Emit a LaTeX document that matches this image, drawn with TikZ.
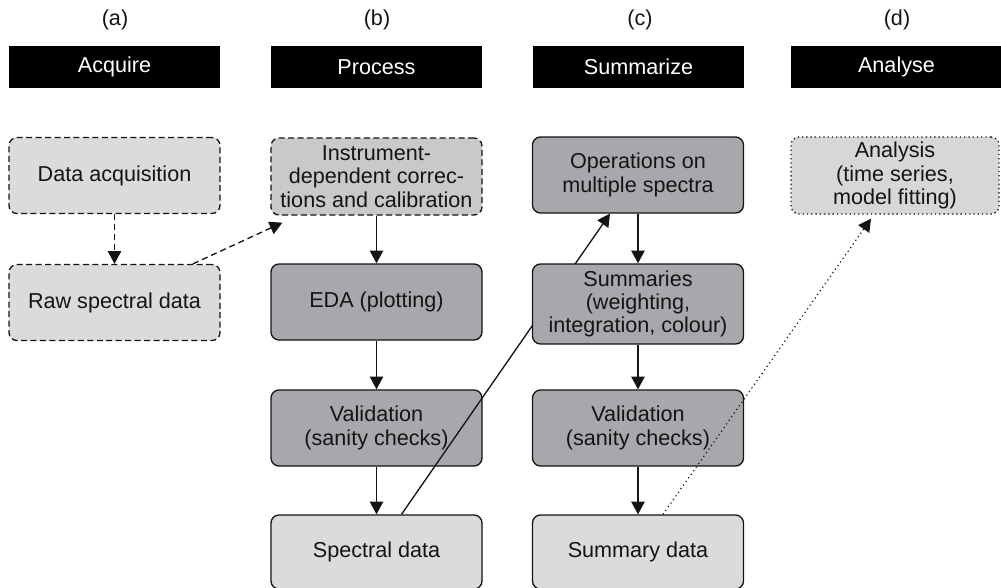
\documentclass[tikz,border=0pt]{standalone}
\usepackage{fontspec}
\setmainfont{Liberation Sans}
\usetikzlibrary{arrows.meta}
\definecolor{lightfill}{HTML}{DADBDD}
\definecolor{darkfill}{HTML}{A7A8AB}
\definecolor{midfill}{HTML}{C8C9CB}
\definecolor{anafill}{HTML}{D6D7D9}
\definecolor{ink}{HTML}{141414}
\begin{document}
\begin{tikzpicture}[x=0.75pt,y=-0.75pt,
  font=\fontsize{16.2}{17.5}\selectfont,
  box/.style={draw=ink, line width=1pt, rounded corners=6pt, minimum width=158.25pt,
    minimum height=57pt, align=center, inner sep=2pt, text=ink},
  lightbox/.style={box, fill=lightfill},
  darkbox/.style={box, fill=darkfill},
  dashbox/.style={dash pattern=on 4.5pt off 2.6pt},
  dotbox/.style={dash pattern=on 1pt off 2.2pt},
  header/.style={fill=black, text=white, minimum width=158.25pt, minimum height=31.5pt, inner sep=0pt},
  tag/.style={text=ink, inner sep=0pt},
  arr/.style={draw=ink, line width=1pt, -{Triangle[length=9.5pt,width=10pt]}},
  dasharr/.style={arr, dash pattern=on 4.5pt off 3pt},
  dotarr/.style={arr, line width=0.9pt, dash pattern=on 0.9pt off 2.4pt},
]
\useasboundingbox (0,0) rectangle (1001,587);
\clip (0,0) rectangle (1001,587);

% column tags
\node[tag] (ta) at (115,20) {(a)};
\node[tag] (tb) at (377,20) {(b)};
\node[tag] (tc) at (640,20) {(c)};
\node[tag] (td) at (897,20) {(d)};

% headers
\node[header] (ha) at (114.5,67) {Acquire};
\node[header] (hb) at (376.5,67) {Process};
\node[header] (hc) at (638.5,67) {Summarize};
\node[header] (hd) at (896.5,67) {Analyse};

% boxes
\node[lightbox, dashbox] (acq) at (114.5,175.5) {Data acquisition};
\node[lightbox, dashbox] (raw) at (114.5,302.5) {Raw spectral data};
\node[box, fill=midfill, dashbox, minimum height=57.75pt] (instr) at (376.5,176.5) {Instrument-\\dependent correc-\\tions and calibration};
\node[darkbox] (eda) at (376.5,302) {EDA (plotting)};
\node[darkbox] (valb) at (376.5,428) {Validation\\(sanity checks)};
\node[lightbox, minimum height=55.5pt] (spec) at (376.5,552) {Spectral data};
\node[darkbox] (ops) at (638,175) {Operations on\\multiple spectra};
\node[darkbox] (valc) at (638,428) {Validation\\(sanity checks)};
\node[lightbox, minimum height=55.5pt] (sumd) at (638,552) {Summary data};
\node[box, fill=anafill, dotbox, minimum width=156pt, minimum height=57.75pt] (ana) at (895,175.5) {Analysis\\(time series,\\model fitting)};

% feedback line (passes over validation, under summaries)
\draw[arr] ([shift={(25,0)}]spec.north) -- ([shift={(-28,0)}]ops.south);

\node[darkbox, minimum height=60pt] (summ) at (638,304) {Summaries\\(weighting,\\integration, colour)};

% arrows
\draw[dasharr] (acq.south) -- (raw.north);
\draw[dasharr] ([shift={(78.5,0)}]raw.north) -- ([shift={(12,7)}]instr.south west);
\draw[arr] (instr.south) -- (eda.north);
\draw[arr] (eda.south) -- (valb.north);
\draw[arr] (valb.south) -- (spec.north);
\draw[arr] (ops.south) -- (summ.north);
\draw[arr] (summ.south) -- (valc.north);
\draw[arr] (valc.south) -- (sumd.north);
\draw[dotarr] ([shift={(25,0)}]sumd.north) -- ([shift={(-24,4)}]ana.south);
\end{tikzpicture}
\end{document}
